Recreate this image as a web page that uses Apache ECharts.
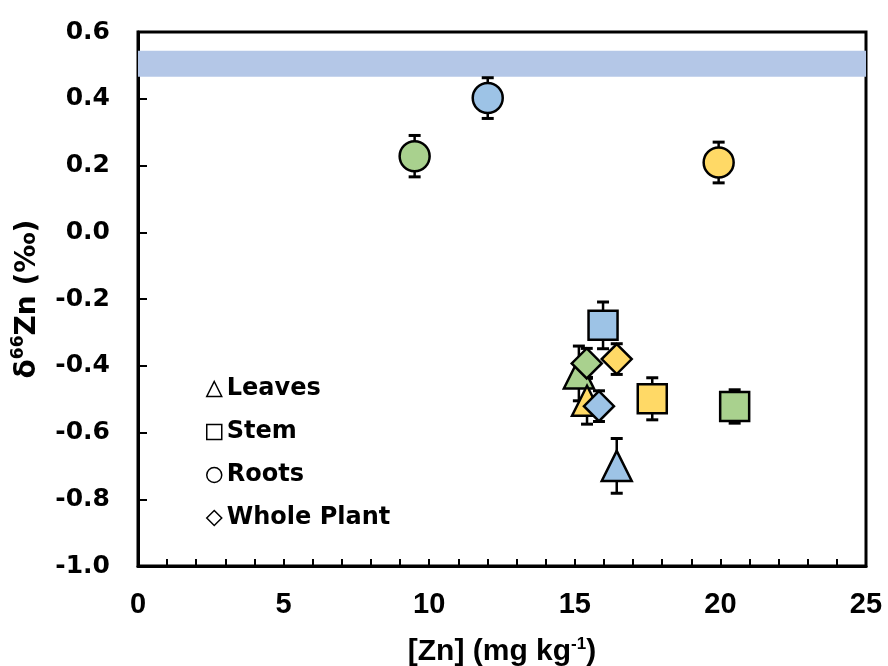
<!DOCTYPE html>
<html>
<head>
<meta charset="utf-8">
<script src="https://cdn.jsdelivr.net/npm/echarts@6/dist/echarts.min.js"></script>
<style>html,body{margin:0;padding:0;background:#fff;}#c{width:888px;height:666px;}</style>
</head>
<body>
<div id="c"></div>
<script>
// ---- data ----
const organs = ['Leaves', 'Stem', 'Roots', 'Whole Plant'];
const organSymbols = ['triangle', 'rect', 'circle', 'diamond'];

const leavesX = [15.14, 15.42, 16.44];
const leavesY = [-0.423, -0.505, -0.70];
const leavesErr = [0.082, 0.07, 0.082];
const leavesColor = ['green', 'yellow', 'blue'];

const stemX = [15.97, 17.66, 20.49];
const stemY = [-0.279, -0.499, -0.522];
const stemErr = [0.07, 0.063, 0.05];
const stemColor = ['blue', 'yellow', 'green'];

const rootsX = [9.50, 12.01, 19.94];
const rootsY = [0.228, 0.402, 0.209];
const rootsErr = [0.062, 0.061, 0.061];
const rootsColor = ['green', 'blue', 'yellow'];

const wholeX = [15.41, 16.44, 15.83];
const wholeY = [-0.393, -0.38, -0.521];
const wholeErr = [0.045, 0.046, 0.046];
const wholeColor = ['green', 'yellow', 'blue'];

const bandRange = [0.466, 0.544];
const xTicks = [0, 5, 10, 15, 20, 25];
const yTicks = [-1.0, -0.8, -0.6, -0.4, -0.2, 0.0, 0.2, 0.4, 0.6];

// ---- styles ----
const palette = { blue: '#9dc3e6', green: '#a9d18e', yellow: '#ffd966' };
const symbolSizes = { triangle: [30, 30], rect: [29, 29], circle: 30, diamond: [30, 30] };

const groups = [
  { x: leavesX, y: leavesY, e: leavesErr, c: leavesColor },
  { x: stemX, y: stemY, e: stemErr, c: stemColor },
  { x: rootsX, y: rootsY, e: rootsErr, c: rootsColor },
  { x: wholeX, y: wholeY, e: wholeErr, c: wholeColor }
];

function errRender(params, api) {
  const x = api.value(0), y = api.value(1), e = api.value(2);
  const t = api.coord([x, y + e]);
  const b = api.coord([x, y - e]);
  const w = 6;
  return {
    type: 'group',
    children: [
      { type: 'line', shape: { x1: t[0], y1: t[1], x2: b[0], y2: b[1] }, style: { stroke: '#000', lineWidth: 2.5 } },
      { type: 'line', shape: { x1: t[0] - w, y1: t[1], x2: t[0] + w, y2: t[1] }, style: { stroke: '#000', lineWidth: 3 } },
      { type: 'line', shape: { x1: b[0] - w, y1: b[1], x2: b[0] + w, y2: b[1] }, style: { stroke: '#000', lineWidth: 3 } }
    ]
  };
}

const series = [{
  name: 'band', type: 'line', data: [], silent: true,
  markArea: { silent: true, itemStyle: { color: '#b4c7e7', opacity: 1 }, data: [[{ yAxis: bandRange[0] }, { yAxis: bandRange[1] }]] }
}];

groups.forEach((g, i) => {
  series.push({
    name: organs[i] + ' err', type: 'custom', renderItem: errRender, silent: true,
    data: g.x.map((xv, k) => [xv, g.y[k], g.e[k]])
  });
  series.push({
    name: organs[i], type: 'scatter', symbol: organSymbols[i],
    symbolSize: symbolSizes[organSymbols[i]],
    itemStyle: { opacity: 1 },
    data: g.x.map((xv, k) => ({
      value: [xv, g.y[k]],
      itemStyle: { color: palette[g.c[k]], borderColor: '#000', borderWidth: 2.5, opacity: 1 }
    }))
  });
});

const chart = echarts.init(document.getElementById('c'), null, { renderer: 'canvas' });
chart.setOption({
  animation: false,
  backgroundColor: '#fff',
  grid: { left: 138, right: 22, top: 32, bottom: 100, containLabel: false, outerBoundsMode: 'none', show: true, borderColor: '#000', borderWidth: 3, backgroundColor: 'transparent' },
  legend: {
    orient: 'vertical', left: 201, top: 371, itemWidth: 15, itemHeight: 15, itemGap: 17,
    selectedMode: false,
    textStyle: { fontFamily: 'DejaVu Sans', fontWeight: 'bold', fontSize: 24, color: '#000', lineHeight: 26 },
    data: organs.map((n, i) => ({ name: n, icon: organSymbols[i], itemStyle: { color: '#fff', borderColor: '#000', borderWidth: 1.5 } }))
  },
  xAxis: {
    type: 'value', min: xTicks[0], max: xTicks[xTicks.length - 1], interval: 5,
    splitLine: { show: false },
    axisLine: { show: true, onZero: false, lineStyle: { color: '#000', width: 3 } },
    axisTick: { show: true, inside: true, length: 7, lineStyle: { color: '#000', width: 2 } },
    minorTick: { show: true, splitNumber: 5, length: 7, lineStyle: { color: '#000', width: 2 } },
    axisLabel: { margin: 24, color: '#000', fontFamily: 'Liberation Sans', fontWeight: 'bold', fontSize: 29 },
    name: '[Zn] (mg kg{sup|-1})', nameLocation: 'middle', nameGap: 70,
    nameTextStyle: {
      color: '#000', fontFamily: 'Liberation Sans', fontWeight: 'bold', fontSize: 30, lineHeight: 32,
      rich: { sup: { fontFamily: 'Liberation Sans', fontWeight: 'bold', fontSize: 17, verticalAlign: 'top', lineHeight: 32, color: '#000' } }
    }
  },
  yAxis: {
    type: 'value', min: yTicks[0], max: yTicks[yTicks.length - 1], interval: 0.2,
    splitLine: { show: false },
    axisLine: { show: true, onZero: false, lineStyle: { color: '#000', width: 3 } },
    axisTick: { show: true, inside: true, length: 9, lineStyle: { color: '#000', width: 2 } },
    axisLabel: { margin: 28, color: '#000', fontFamily: 'DejaVu Sans', fontWeight: 'bold', fontSize: 25, formatter: v => v.toFixed(1) },
    name: '{a|δ}{sup|66}{a|Zn (‰)}', nameLocation: 'middle', nameRotate: 90, nameGap: 96,
    nameTextStyle: {
      color: '#000', fontFamily: 'DejaVu Sans', fontWeight: 'bold', fontSize: 28,
      rich: {
        a: { fontFamily: 'DejaVu Sans', fontWeight: 'bold', fontSize: 28, color: '#000', lineHeight: 32, verticalAlign: 'bottom' },
        sup: { fontFamily: 'DejaVu Sans', fontWeight: 'bold', fontSize: 17, color: '#000', lineHeight: 32, verticalAlign: 'top' }
      }
    }
  },
  series: series
});
</script>
</body>
</html>
